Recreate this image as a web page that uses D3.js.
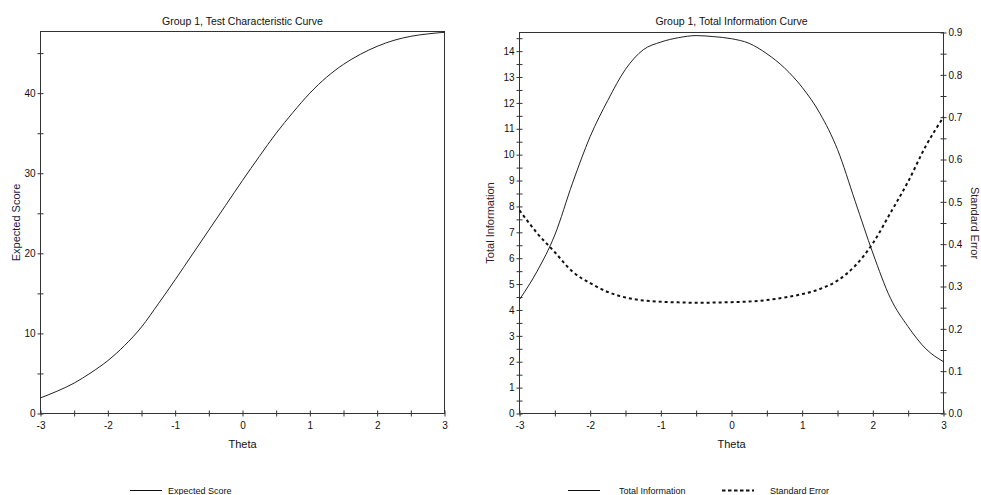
<!DOCTYPE html>
<html>
<head>
<meta charset="utf-8">
<script src="https://cdn.jsdelivr.net/npm/d3@7"></script>
<style>
  html, body { margin: 0; padding: 0; background: #fff; }
  svg { display: block; font-family: "Liberation Sans", Arial, sans-serif; }
</style>
</head>
<body>
<svg id="chart" width="981" height="495"></svg>
<script>
// ---------- data ----------
const theta = [-3, -2.75, -2.5, -2.25, -2, -1.75, -1.5, -1.25, -1, -0.75, -0.5, -0.25, 0,
               0.25, 0.5, 0.75, 1, 1.25, 1.5, 1.75, 2, 2.25, 2.5, 2.75, 3];
const expectedScore = [1.95, 2.8, 3.8, 5.1, 6.6, 8.5, 10.8, 13.7, 16.7, 19.8, 22.9, 26.0, 29.1,
                       32.1, 35.0, 37.6, 40.0, 42.0, 43.6, 44.85, 45.85, 46.6, 47.1, 47.4, 47.6];
const totalInformation = [4.4, 5.5, 6.9, 8.9, 10.7, 12.1, 13.3, 14.05, 14.35, 14.52, 14.6, 14.56, 14.48,
                          14.3, 13.9, 13.35, 12.6, 11.6, 10.2, 8.2, 6.2, 4.45, 3.35, 2.5, 2.0];
const standardError = [0.48, 0.426, 0.381, 0.335, 0.308, 0.287, 0.274, 0.267, 0.264, 0.2625, 0.2617, 0.262, 0.263,
                       0.2645, 0.268, 0.274, 0.282, 0.294, 0.314, 0.349, 0.402, 0.474, 0.548, 0.632, 0.70];
const thetaTicks = [-3, -2.5, -2, -1.5, -1, -0.5, 0, 0.5, 1, 1.5, 2, 2.5, 3];
const scoreTicks = [0, 5, 10, 15, 20, 25, 30, 35, 40, 45];
const infoTicks = [0, 0.5, 1, 1.5, 2, 2.5, 3, 3.5, 4, 4.5, 5, 5.5, 6, 6.5, 7, 7.5, 8, 8.5, 9, 9.5, 10,
                   10.5, 11, 11.5, 12, 12.5, 13, 13.5, 14, 14.5];
const seTicks = [0, 0.05, 0.1, 0.15, 0.2, 0.25, 0.3, 0.35, 0.4, 0.45, 0.5, 0.55, 0.6, 0.65, 0.7, 0.75, 0.8, 0.85, 0.9];
const titles = ["Group 1, Test Characteristic Curve", "Group 1, Total Information Curve"];

// ---------- setup ----------
const svg = d3.select("#chart");
const axisColor = "#333";
const lineColor = "#222";
const tickFont = 10;

function isMultiple(v, step) { return Math.abs(v / step - Math.round(v / step)) < 1e-6; }

function styleAxis(g, orient) {
  g.select(".domain").remove();
  g.selectAll(".tick line").attr("stroke", axisColor);
  if (orient === "bottom") g.selectAll(".tick line").attr("y1", -3).attr("y2", 3);
  if (orient === "left") g.selectAll(".tick line").attr("x1", -3).attr("x2", 3);
  if (orient === "right") g.selectAll(".tick line").attr("x1", -3).attr("x2", 3);
  g.selectAll(".tick text").attr("fill", "#111").style("font-size", tickFont + "px")
    .style("font-family", "'Liberation Sans', Arial, sans-serif");
}

// ---------- left chart ----------
const L = { x0: 40.5, x1: 444.5, y0: 31.5, y1: 413.5 };
const xL = d3.scaleLinear().domain([-3, 3]).range([L.x0, L.x1]);
const yL = d3.scaleLinear().domain([0, 47.7]).range([L.y1, L.y0]);

const gxL = svg.append("g").attr("transform", `translate(0,${L.y1})`)
  .call(d3.axisBottom(xL).tickValues(thetaTicks).tickSize(3).tickPadding(5)
    .tickFormat(d => isMultiple(d, 1) ? d3.format("d")(d).replace("−", "-") : ""));
styleAxis(gxL, "bottom");

const gyL = svg.append("g").attr("transform", `translate(${L.x0},0)`)
  .call(d3.axisLeft(yL).tickValues(scoreTicks).tickSize(3).tickPadding(2)
    .tickFormat(d => isMultiple(d, 10) ? d3.format("d")(d) : ""));
styleAxis(gyL, "left");

svg.append("rect").attr("x", L.x0).attr("y", L.y0)
  .attr("width", L.x1 - L.x0).attr("height", L.y1 - L.y0)
  .attr("fill", "none").attr("stroke", axisColor).attr("stroke-width", 1);

svg.append("path")
  .datum(theta.map((t, i) => [t, expectedScore[i]]))
  .attr("fill", "none").attr("stroke", lineColor).attr("stroke-width", 1)
  .attr("d", d3.line().x(d => xL(d[0])).y(d => yL(d[1])).curve(d3.curveMonotoneX));

svg.append("text").attr("x", (L.x0 + L.x1) / 2).attr("y", 25)
  .attr("text-anchor", "middle").style("font-size", "10.5px").attr("fill", "#111").text(titles[0]);
svg.append("text").attr("x", (L.x0 + L.x1) / 2).attr("y", 448)
  .attr("text-anchor", "middle").style("font-size", "11px").attr("fill", "#111").text("Theta");
svg.append("text").attr("transform", `translate(19.5,${(L.y0 + L.y1) / 2}) rotate(-90)`)
  .attr("text-anchor", "middle").style("font-size", "11px").attr("fill", "#1c1c3c").text("Expected Score");

// ---------- right chart ----------
const R = { x0: 519.5, x1: 943.5, y0: 32.5, y1: 413.5 };
const xR = d3.scaleLinear().domain([-3, 3]).range([R.x0, R.x1]);
const yR = d3.scaleLinear().domain([0, 14.72]).range([R.y1, R.y0]);
const yR2 = d3.scaleLinear().domain([0, 0.9]).range([R.y1, R.y0]);

const gxR = svg.append("g").attr("transform", `translate(0,${R.y1})`)
  .call(d3.axisBottom(xR).tickValues(thetaTicks).tickSize(3).tickPadding(5)
    .tickFormat(d => isMultiple(d, 1) ? d3.format("d")(d).replace("−", "-") : ""));
styleAxis(gxR, "bottom");

const gyR = svg.append("g").attr("transform", `translate(${R.x0},0)`)
  .call(d3.axisLeft(yR).tickValues(infoTicks).tickSize(3).tickPadding(2)
    .tickFormat(d => isMultiple(d, 1) ? d3.format("d")(d) : ""));
styleAxis(gyR, "left");

const gyR2 = svg.append("g").attr("transform", `translate(${R.x1},0)`)
  .call(d3.axisRight(yR2).tickValues(seTicks).tickSize(3).tickPadding(2)
    .tickFormat(d => isMultiple(d, 0.1) ? d3.format(".1f")(d) : ""));
styleAxis(gyR2, "right");

svg.append("rect").attr("x", R.x0).attr("y", R.y0)
  .attr("width", R.x1 - R.x0).attr("height", R.y1 - R.y0)
  .attr("fill", "none").attr("stroke", axisColor).attr("stroke-width", 1);

svg.append("path")
  .datum(theta.map((t, i) => [t, totalInformation[i]]))
  .attr("fill", "none").attr("stroke", lineColor).attr("stroke-width", 1)
  .attr("d", d3.line().x(d => xR(d[0])).y(d => yR(d[1])).curve(d3.curveMonotoneX));

svg.append("path")
  .datum(theta.map((t, i) => [t, standardError[i]]))
  .attr("fill", "none").attr("stroke", "#111").attr("stroke-width", 2)
  .attr("stroke-dasharray", "3,3")
  .attr("d", d3.line().x(d => xR(d[0])).y(d => yR2(d[1])).curve(d3.curveMonotoneX));

svg.append("text").attr("x", (R.x0 + R.x1) / 2).attr("y", 25)
  .attr("text-anchor", "middle").style("font-size", "10.5px").attr("fill", "#111").text(titles[1]);
svg.append("text").attr("x", (R.x0 + R.x1) / 2).attr("y", 448)
  .attr("text-anchor", "middle").style("font-size", "11px").attr("fill", "#111").text("Theta");
svg.append("text").attr("transform", `translate(494,${(R.y0 + R.y1) / 2}) rotate(-90)`)
  .attr("text-anchor", "middle").style("font-size", "11px").attr("fill", "#3a1c1c").text("Total Information");
svg.append("text").attr("transform", `translate(971,${(R.y0 + R.y1) / 2}) rotate(90)`)
  .attr("text-anchor", "middle").style("font-size", "11px").attr("fill", "#3a1c1c").text("Standard Error");

// ---------- legends ----------
const legendY = 490.5;
const legends = [
  { x: 130, tx: 168, label: "Expected Score", dash: null },
  { x: 568, tx: 619, label: "Total Information", dash: null },
  { x: 722, tx: 770, label: "Standard Error", dash: "3.5,2.5" }
];
legends.forEach(l => {
  svg.append("line").attr("x1", l.x).attr("x2", l.x + 32).attr("y1", legendY).attr("y2", legendY)
    .attr("stroke", "#111").attr("stroke-width", l.dash ? 2 : 1)
    .attr("stroke-dasharray", l.dash);
  svg.append("text").attr("x", l.tx).attr("y", legendY + 3.5)
    .style("font-size", "9px").attr("fill", "#111").text(l.label);
});
</script>
</body>
</html>
